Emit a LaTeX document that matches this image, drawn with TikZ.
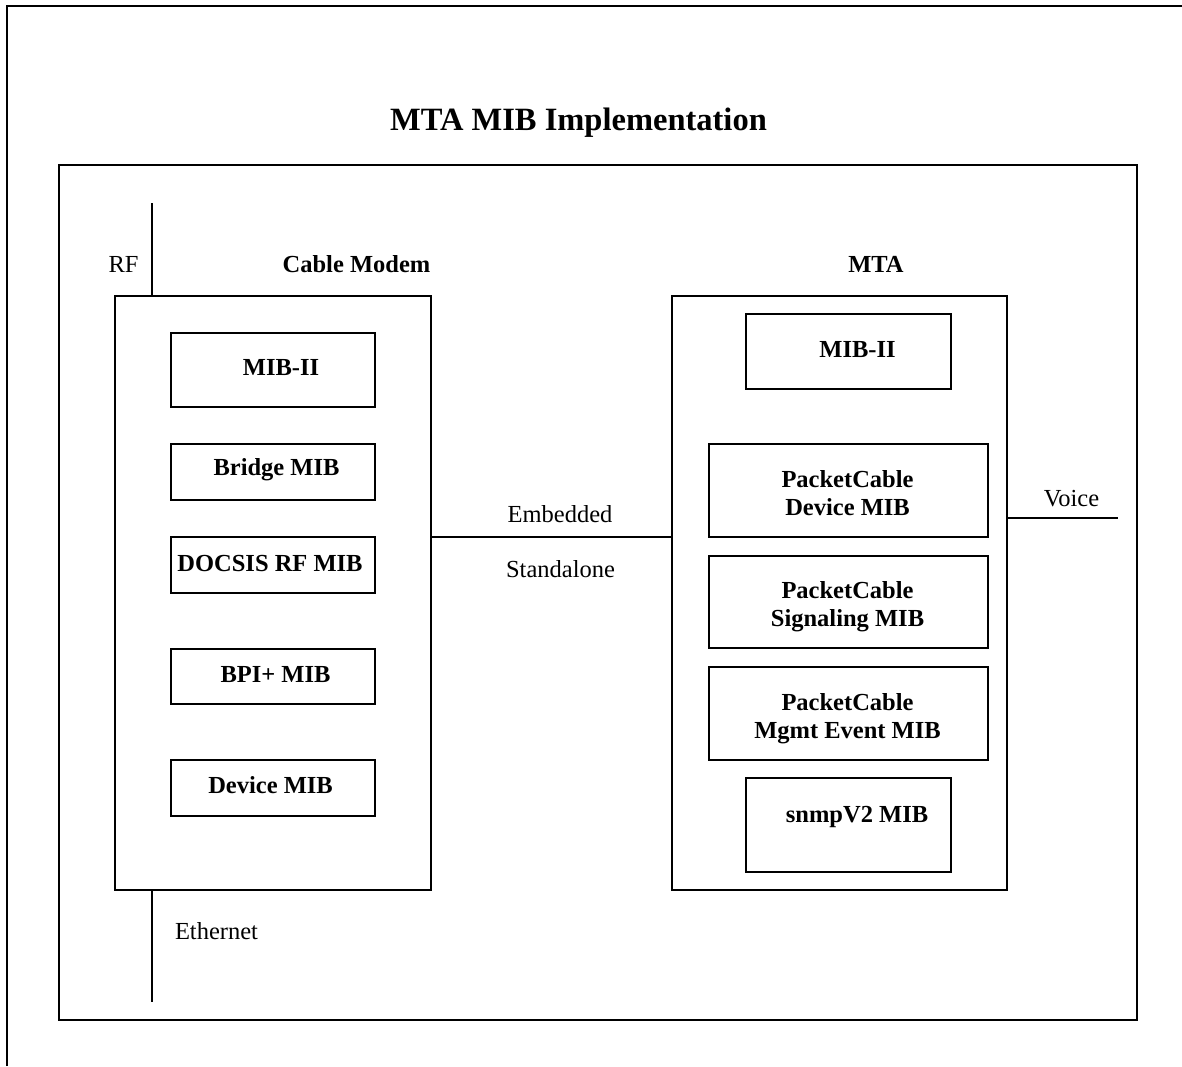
\documentclass[tikz,border=0pt]{standalone}
\usepackage{fontspec}
\setmainfont{Liberation Serif}
\usetikzlibrary{fit}
\tikzset{
  box/.style={draw, line width=1.3pt, inner sep=0pt, rectangle},
  frame/.style={draw, line width=1.3pt, inner sep=0pt, rectangle},
  wire/.style={line width=1.3pt},
  outerline/.style={line width=2.8pt},
  lbl/.style={inner sep=0pt, anchor=base, font=\fontsize{24.5}{28}\selectfont\bfseries, align=center},
  txt/.style={inner sep=0pt, anchor=base, font=\fontsize{24.5}{28}\selectfont},
  ttl/.style={inner sep=0pt, anchor=base, font=\fontsize{32.5}{38}\selectfont\bfseries}
}
\begin{document}
\begin{tikzpicture}[x=1pt, y=-1pt]
\useasboundingbox (0,0) rectangle (1182,1066);
% outer open frame
\coordinate (oBL) at (7,1066);
\coordinate (oTL) at (7,6);
\coordinate (oTR) at (1182,6);
\draw[outerline] (oBL) -- (oTL) -- (oTR);
% title
\node[ttl] (title) at (578.5,130) {MTA MIB Implementation};
% inner frame
\node[frame, fit={(59,165) (1137,1020)}] (inner) {};
% Cable modem
\node[box, fit={(115,296) (431,890)}] (cm) {};
\node[lbl] (cmlbl) at (356.5,272) {Cable Modem};
\node[box, fit={(171,333) (375,407)}] (cm1) {};
\node[lbl] (cm1t) at (281,375) {MIB-II};
\node[box, fit={(171,444) (375,500)}] (cm2) {};
\node[lbl] (cm2t) at (276.5,475) {Bridge MIB};
\node[box, fit={(171,537) (375,593)}] (cm3) {};
\node[lbl] (cm3t) at (270,571) {DOCSIS RF MIB};
\node[box, fit={(171,649) (375,704)}] (cm4) {};
\node[lbl] (cm4t) at (275.5,682) {BPI+ MIB};
\node[box, fit={(171,760) (375,816)}] (cm5) {};
\node[lbl] (cm5t) at (270.5,793) {Device MIB};
% RF and Ethernet
\coordinate (rfTop) at (152,203);
\coordinate (ethBot) at (152,1002);
\draw[wire] (rfTop) -- (rfTop |- cm.north);
\draw[wire] (ethBot |- cm.south) -- (ethBot);
\node[txt] (rf) at (123.5,272) {RF};
\node[txt] (eth) at (216.5,939) {Ethernet};
% MTA
\node[box, fit={(672,296) (1007,890)}] (mta) {};
\node[lbl] (mtalbl) at (876,272) {MTA};
\node[box, fit={(746,314) (951,389)}] (m1) {};
\node[lbl] (m1t) at (857.5,357) {MIB-II};
\node[box, fit={(709,444) (988,537)}] (m2) {};
\node[lbl] (m2t) at (847.5,515) {PacketCable\\Device MIB};
\node[box, fit={(709,556) (988,648)}] (m3) {};
\node[lbl] (m3t) at (847.5,626) {PacketCable\\Signaling MIB};
\node[box, fit={(709,667) (988,760)}] (m4) {};
\node[lbl] (m4t) at (847.5,738) {PacketCable\\Mgmt Event MIB};
\node[box, fit={(746,778) (951,872)}] (m5) {};
\node[lbl] (m5t) at (857,822) {snmpV2 MIB};
% link
\coordinate (linkY) at (0,537);
\draw[wire] (cm.east |- linkY) -- (mta.west |- linkY);
\node[txt] (emb) at (560,522) {Embedded};
\node[txt] (sta) at (560.5,577) {Standalone};
% voice
\coordinate (voiceEnd) at (1118,518);
\draw[wire] (mta.east |- voiceEnd) -- (voiceEnd);
\node[txt] (voice) at (1071.5,506) {Voice};
\end{tikzpicture}
\end{document}
